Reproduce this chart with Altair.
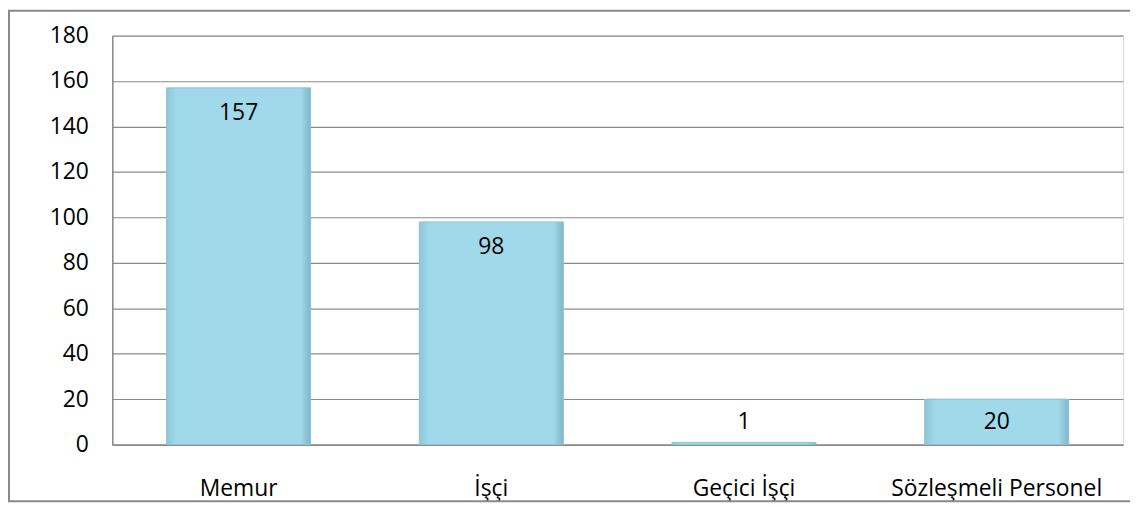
import altair as alt
import pandas as pd

categories = ["Memur", "İşçi", "Geçici İşçi", "Sözleşmeli Personel"]
values = [157, 98, 1, 20]
y_ticks = [0, 20, 40, 60, 80, 100, 120, 140, 160, 180]

df = pd.DataFrame({"kategori": categories, "deger": values})

FONT = "Open Sans"
FS = 23
GRID = "#8a8a8a"

x_enc = alt.X("kategori:N", sort=categories,
              scale=alt.Scale(paddingInner=0.43, paddingOuter=0.215),
              axis=alt.Axis(title=None, labelAngle=0, ticks=False, labelFontSize=FS,
                            labelFont=FONT, labelColor="#000000", labelPadding=33,
                            labelLimit=400,
                            domainColor=GRID, domainWidth=1.5, grid=False))
y_scale = alt.Scale(domain=[0, 180], nice=False)

bar_fill = alt.Gradient(
    gradient="linear", x1=0, x2=1, y1=0, y2=0,
    stops=[
        alt.GradientStop(offset=0, color="#8cc6d7"),
        alt.GradientStop(offset=0.07, color="#a0d9ea"),
        alt.GradientStop(offset=0.93, color="#a0d9ea"),
        alt.GradientStop(offset=1, color="#80b6c7"),
    ],
)

bars = alt.Chart(df).mark_bar(color=bar_fill, stroke="#8ec3d2", strokeWidth=1).encode(
    x=x_enc,
    y=alt.Y("deger:Q", scale=y_scale,
            axis=alt.Axis(title=None, values=y_ticks, ticks=False, labelFontSize=FS,
                          labelFont=FONT, labelColor="#000000", labelPadding=24,
                          domainColor=GRID, domainWidth=1.5, gridColor=GRID,
                          gridWidth=1.2)),
)

labels = alt.Chart(df).transform_calculate(
    pos="max(datum.deger - 11, 10)"
).mark_text(fontSize=FS, font=FONT, color="#000000", baseline="middle").encode(
    x=alt.X("kategori:N", sort=categories),
    y=alt.Y("pos:Q", scale=y_scale),
    text="deger:Q",
)

frame = alt.Chart(pd.DataFrame({"a": [0]})).mark_rect(
    fillOpacity=0, stroke="#8a8a8a", strokeWidth=2
).encode(
    x=alt.value(-104), x2=alt.value(1040),
    y=alt.value(-25), y2=alt.value(469),
)

chart = alt.layer(bars, labels, frame).properties(
    width=1018, height=412,
    autosize=alt.AutoSizeParams(type="none"),
    padding={"left": 105, "top": 26, "right": 7, "bottom": 57},
).configure_view(stroke=None).configure(background="#ffffff")

chart.save("out.html", embed_options={"renderer": "svg", "actions": False})
